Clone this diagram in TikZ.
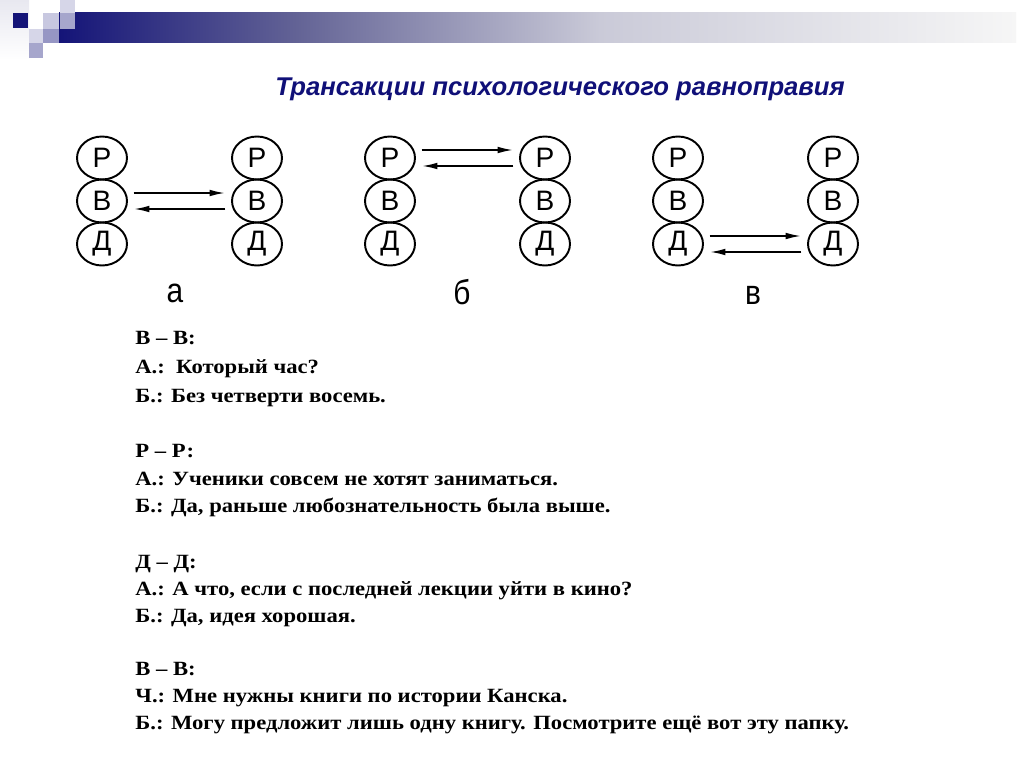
\documentclass[tikz,border=0pt]{standalone}
\usepackage{fontspec}
\setmainfont{Liberation Serif}
\newfontfamily\arial{Liberation Sans}
\usetikzlibrary{arrows.meta,shapes.geometric}
\definecolor{navy}{RGB}{20,20,120}
\definecolor{titleblue}{RGB}{16,16,120}
\definecolor{barmid}{RGB}{100,100,150}
\definecolor{barlight}{RGB}{202,202,216}
\definecolor{barend}{RGB}{246,246,246}
\definecolor{sqA}{RGB}{200,200,224}
\definecolor{sqB}{RGB}{166,166,204}
\definecolor{sqC}{RGB}{214,214,232}
\definecolor{sqD}{RGB}{150,150,196}
\definecolor{sqE}{RGB}{232,232,240}
\begin{document}
\begin{tikzpicture}[x=0.02cm,y=-0.02cm,
  egoc/.style={draw,line width=1.1pt,ellipse,inner sep=0pt,minimum width=1cm,minimum height=0.86cm,font=\arial\fontsize{16}{16}\selectfont},
  trans/.style={line width=1.1pt,-{Latex[length=9pt,width=3.8pt]},shorten <=3.2pt,shorten >=3.2pt},
  lbl/.style={font=\arial\fontsize{17}{17}\selectfont,yscale=1.15,transform shape},
  line/.style={anchor=base west,inner sep=0pt,font=\bfseries\fontsize{11.5}{11.5}\selectfont,xscale=1.12,transform shape}]
\useasboundingbox (0,0) rectangle (1024,767);
\fill[white] (0,0) rectangle (1024,767);
% header decoration
\shade[top color=sqE,bottom color=white] (0,0) rectangle (29,60);
\shade[left color=navy,right color=barmid] (59,13) rectangle (300,43);
\shade[left color=barmid,right color=barlight] (299,13) rectangle (600,43);
\shade[left color=barlight,right color=barend] (599,13) rectangle (1016,43);
\fill[navy] (13,13) rectangle (28,28);
\fill[sqA] (43,13) rectangle (59,29);
\fill[sqC] (60,0) rectangle (75,13);
\fill[sqB] (60,13) rectangle (75,29);
\fill[sqD] (43,29) rectangle (59,43);
\fill[sqC] (29,29) rectangle (43,43);
\fill[sqB] (29,43) rectangle (43,58);
% title
\node[font=\arial\bfseries\itshape\fontsize{14.6}{14.6}\selectfont,text=titleblue] (title) at (560,89) {Трансакции психологического равноправия};
% ego state diagrams
\foreach \n/\x in {aL/102,aR/257,bL/390,bR/545,cL/678,cR/833}{
  \node[egoc] (\n P) at (\x,158) {Р};
  \node[egoc] (\n B) at (\x,201) {В};
  \node[egoc] (\n D) at (\x,244) {Д};
}
\draw[trans] ([yshift=0.16cm]aLB.east) -- ([yshift=0.16cm]aRB.west);
\draw[trans] ([yshift=-0.16cm]aRB.west) -- ([yshift=-0.16cm]aLB.east);
\draw[trans] ([yshift=0.16cm]bLP.east) -- ([yshift=0.16cm]bRP.west);
\draw[trans] ([yshift=-0.16cm]bRP.west) -- ([yshift=-0.16cm]bLP.east);
\draw[trans] ([yshift=0.16cm]cLD.east) -- ([yshift=0.16cm]cRD.west);
\draw[trans] ([yshift=-0.16cm]cRD.west) -- ([yshift=-0.16cm]cLD.east);
\node[lbl] (la) at (175,293) {а};
\node[lbl] (lb) at (462,292) {б};
\node[lbl] (lc) at (753,295) {в};
% dialogue text
\node[line] (t1) at (135,344) {В – В:};
\node[line] (t2) at (135,373) {А.:\ \ Который час?};
\node[line] (t3) at (135,402) {Б.: Без четверти восемь.};
\node[line] (t4) at (135,457) {Р – Р:};
\node[line] (t5) at (135,485) {А.: Ученики совсем не хотят заниматься.};
\node[line] (t6) at (135,512) {Б.: Да, раньше любознательность была выше.};
\node[line] (t7) at (135,568) {Д – Д:};
\node[line] (t8) at (135,595) {А.: А что, если с последней лекции уйти в кино?};
\node[line] (t9) at (135,622) {Б.: Да, идея хорошая.};
\node[line] (t10) at (135,675) {В – В:};
\node[line] (t11) at (135,702) {Ч.: Мне нужны книги по истории Канска.};
\node[line] (t12) at (135,729) {Б.: Могу предложит лишь одну книгу. Посмотрите ещё вот эту папку.};
\end{tikzpicture}
\end{document}
